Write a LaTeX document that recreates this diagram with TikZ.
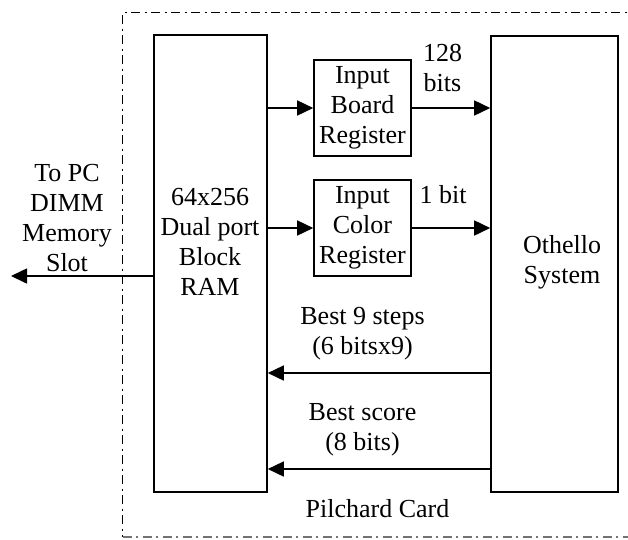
\documentclass[tikz,border=0pt]{standalone}
\usepackage{fontspec}
\setmainfont{Liberation Serif}
\usetikzlibrary{arrows.meta}
\newcommand\diagfont{\fontsize{26}{30}\selectfont}
\begin{document}
\begin{tikzpicture}[x=1pt,y=-1pt,
  box/.style={draw,line width=1.6pt,inner sep=0pt,align=center,font=\diagfont},
  lbl/.style={inner sep=0pt,align=center,font=\diagfont},
  arr/.style={line width=1.6pt,-{Triangle[length=16pt,width=15pt]}},
  card/.style={line width=1.2pt,dash pattern=on 9pt off 4.5pt on 2pt off 4.5pt}]
\useasboundingbox (0,0) rectangle (628,539);
\begin{scope}
\clip (0,0) rectangle (628,539);
\draw[card] (640,12.5) -- (122.5,12.5) -- (122.5,537);
\draw[card,black!55] (122.5,537) -- (640,537);
\end{scope}
% blocks
\node[box,minimum width=113pt,minimum height=457pt] (ram) at (210.5,263.5) {};
\node[lbl] (ramtxt) at (210,242) {64x256\\Dual port\\Block\\RAM};
\node[box,minimum width=127pt,minimum height=456pt] (oth) at (554.5,264) {};
\node[lbl] (othtxt) at (562,262) {Othello\\System};
\node[box,minimum width=97pt,minimum height=96pt] (ibr) at (362.5,108) {Input\\Board\\Register};
\node[box,minimum width=97pt,minimum height=96pt] (icr) at (362.5,228) {Input\\Color\\Register};
% coordinates
\coordinate (pc) at (11,276);
\coordinate (s9) at (491,373);
\coordinate (bs) at (491,469);
% connectors
\draw[arr] (ram.east |- ibr.west) -- (ibr.west);
\draw[arr] (ibr.east) -- (ibr.east -| oth.west);
\draw[arr] (ram.east |- icr.west) -- (icr.west);
\draw[arr] (icr.east) -- (icr.east -| oth.west);
\draw[arr] (s9) -- (s9 -| ram.east);
\draw[arr] (bs) -- (bs -| ram.east);
\draw[arr] (ram.west |- pc) -- (pc);
% labels
\node[lbl] (lpc) at (67,218) {To PC\\DIMM\\Memory\\Slot};
\node[lbl] (l128) at (442.5,68) {128\\bits};
\node[lbl,anchor=base] (l1) at (443,203) {1 bit};
\node[lbl] (lbest9) at (362.5,334) {Best 9 steps\\(6 bitsx9)};
\node[lbl] (lscore) at (362.5,430) {Best score\\(8 bits)};
\node[lbl,anchor=base] (lcard) at (377.5,517) {Pilchard Card};
\end{tikzpicture}
\end{document}
